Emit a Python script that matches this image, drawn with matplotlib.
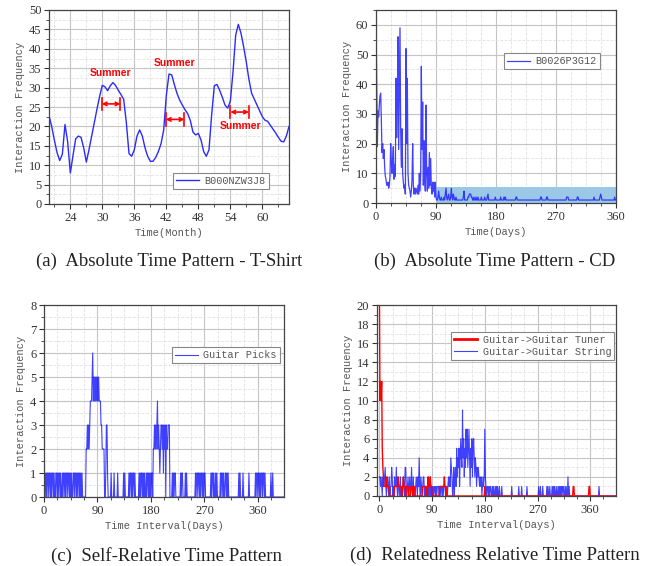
import numpy as np
import matplotlib
matplotlib.use("Agg")
import matplotlib.pyplot as plt
from matplotlib.ticker import MultipleLocator

plt.rcParams['font.family'] = ['Liberation Serif', 'DejaVu Serif']

# ---- (a) T-Shirt, monthly (read every half month)
a_month = np.arange(20, 65.01, 0.5)
a_freq = [22.8, 20.0, 16.5, 13.3, 11.2, 12.8, 20.5, 16.0, 8.0, 12.5,
          16.8, 17.5, 17.2, 14.5, 10.8, 14.0, 17.5, 21.0, 24.5, 27.8,
          30.6, 30.2, 29.2, 30.5, 31.3, 30.5, 29.3, 28.2, 27.0, 21.0,
          13.0, 12.3, 14.0, 17.5, 19.1, 17.5, 14.5, 12.3, 11.0, 11.0,
          12.0, 13.5, 15.5, 19.0, 28.0, 33.5, 33.3, 30.8, 28.5, 26.8,
          25.5, 24.3, 23.3, 21.5, 18.5, 17.8, 18.2, 16.5, 13.5, 12.3,
          14.0, 23.0, 30.5, 30.8, 29.3, 27.5, 25.5, 24.7, 26.5, 34.0,
          43.5, 46.3, 44.0, 40.5, 36.5, 32.0, 28.5, 27.0, 25.5, 24.0,
          22.5, 21.6, 21.3, 20.3, 19.3, 18.3, 17.2, 16.2, 16.0, 17.5,
          20.0]
summer_start = [29.9, 41.9, 54.0]
summer_end = [33.4, 45.4, 57.5]
summer_y = [25.8, 21.8, 23.7]
summer_label_x = [31.6, 43.5, 56.0]
summer_label_y = [33.8, 36.3, 20.1]

# ---- (b) CD, daily
b_head = [65, 40, 19, 31, 29, 33, 36, 37, 28, 17,
          20, 15, 18, 12, 9, 8, 6, 6, 7, 5,
          6, 9, 20, 14, 10, 15, 19, 8, 13, 9,
          42, 22, 35, 56, 18, 40, 59, 25, 12, 25,
          10, 7, 5, 6, 3, 52, 20, 42, 10, 6,
          5, 4, 2, 4, 8, 20, 6, 3, 5, 3,
          5, 4, 3, 6, 3, 10, 4, 10, 46, 18,
          34, 6, 21, 8, 4, 33, 10, 4, 12, 5,
          17, 6, 15, 5, 3, 7, 4, 7, 2, 7,
          2]
b_tail = ("1124211211" "1213521231" "1252132112" "1111111111" "2411111223"
          "3322112112" "1121111211" "1121112311" "1111111121" "1111112111"
          "1212111111" "1111111112" "2111111111" "1111111111" "1111111111"
          "1111112211" "1111122111" "1111111111" "1111111111" "1111122211"
          "1111111111" "1221111111" "1111111111" "1111112111" "1111123211"
          "1111111111" "1111111211")
b_freq = b_head + [int(c) for c in b_tail]
b_band_top = 5.3

# ---- (c) Guitar Picks, daily interval counts
c_str = ("0110101101" "1010110100" "1101011010" "0101101011" "0110101001"
         "1011010110" "1010100000" "0223232344" "4564545454" "5454443322"
         "2200133100" "0001000010" "0000100000" "0000101000" "0001011010"
         "1101000000" "1010110101" "0010110101" "0110223232" "3423212332"
         "3132303223" "3300001010" "1100000000" "1011000010" "1000000000"
         "0000010110" "1101011010" "1100000000" "0101101001" "0100000101"
         "1010011010" "1000000000" "0000000010" "1000010000" "0000010000"
         "0000001011" "0110101101" "1010000000" "0010010000" "000000000000000")
c_freq = [int(c) for c in c_str]

# ---- (d) Guitar -> Tuner / String
d_tuner_head = [24, 10, 12, 10, 12, 5, 3, 2]
d_tuner_str = ("11" "1121111000" "0000001111" "1121111100" "1211101111"
               "0000111011" "1000000000" "0000111111" "1002111211" "0000000000"
               "0001111111" "1211100000")
d_string_str = ("2212102112" "3101210201" "1320102113" "1021012010" "1210331012"
                "0120131020" "1012102141" "0210122010" "1010210201" "1010110101"
                "1101011010" "1110110121" "2143201302" "3152435146" "4394625374"
                "7357415362" "5642431323" "2121201212" "7210110101" "1001010010"
                "1010010001" "0000000000" "0000001000" "0000000010" "0001000000"
                "0010000000" "0000000000" "0010010001" "0000001010" "0100010101"
                "0010010101" "0101100101" "0020100000" "0000000000" "0000000000"
                "0000000000" "0000000000" "0000010000" "0000000000" "0000000000000000")
d_tuner = d_tuner_head + [int(c) for c in d_tuner_str]
d_tuner_spikes = [180, 331, 332, 358, 359]
d_tuner = d_tuner + [0] * (406 - len(d_tuner))
for s in d_tuner_spikes:
    d_tuner[s] = 1
d_string = [int(c) for c in d_string_str]

MONO = 'Liberation Mono'
LAB = 7.5
GRID_MAJ = '#c4c4c4'
GRID_MIN = '#e2e2e2'


def style(ax, xmaj, xmin, ymaj, ymin):
    ax.xaxis.set_major_locator(MultipleLocator(xmaj))
    ax.xaxis.set_minor_locator(MultipleLocator(xmin))
    ax.yaxis.set_major_locator(MultipleLocator(ymaj))
    ax.yaxis.set_minor_locator(MultipleLocator(ymin))
    ax.grid(which='major', color=GRID_MAJ, lw=0.8, ls='-')
    ax.grid(which='minor', color=GRID_MIN, lw=0.6, ls='--')
    ax.set_axisbelow(True)
    ax.tick_params(which='major', direction='out', length=3.5, width=0.8,
                   labelsize=9, colors='#333333', pad=2)
    ax.tick_params(which='minor', direction='out', length=2, width=0.6,
                   colors='#333333')
    for sp in ax.spines.values():
        sp.set_color('#444444')
        sp.set_linewidth(0.9)
    ax.set_ylabel('Interaction Frequency', family=MONO, fontsize=LAB, color='#555555', labelpad=3)


def legend(ax, anchor, loc, handles=None):
    lg = ax.legend(handles=handles, loc=loc, bbox_to_anchor=anchor, borderaxespad=0,
                   prop={'family': MONO, 'size': 7.3}, fancybox=False,
                   edgecolor='#888888', framealpha=1, borderpad=0.3,
                   handlelength=2.3, handletextpad=0.5, labelspacing=0.2)
    lg.get_frame().set_linewidth(0.8)
    for t in lg.get_texts():
        t.set_color('#555555')
    return lg


fig = plt.figure(figsize=(6.46, 5.66), dpi=100)

# (a)
ax = fig.add_axes([49 / 646, 1 - 204 / 566, 240 / 646, 194 / 566])
ax.plot(a_month, a_freq, color='#2b2bff', lw=1.0, label='B000NZW3J8')
ax.set_xlim(20, 65)
ax.set_ylim(0, 50)
style(ax, 6, 3, 5, 2.5)
ax.set_xticks([24, 30, 36, 42, 48, 54, 60])
ax.set_xlabel('Time(Month)', family=MONO, fontsize=LAB, color='#555555', labelpad=3)
for x0, x1, y in zip(summer_start, summer_end, summer_y):
    ax.annotate('', xy=(x0, y), xytext=(x1, y),
                arrowprops=dict(arrowstyle='<->', color='red', lw=1.2,
                                shrinkA=0, shrinkB=0, mutation_scale=6))
    ax.plot([x0, x0], [y - 1.6, y + 1.6], color='red', lw=1.2)
    ax.plot([x1, x1], [y - 1.6, y + 1.6], color='red', lw=1.2)
for x, y in zip(summer_label_x, summer_label_y):
    ax.text(x, y, 'Summer', color='red', fontsize=7.5, fontweight='bold',
            family='Liberation Sans', ha='center', va='center')
legend(ax, (0.517, 0.077), 'lower left')

# (b)
ax = fig.add_axes([376 / 646, 1 - 203 / 566, 240 / 646, 193 / 566])
ax.fill_between([90, 360], 0, b_band_top, color='#9cc8e8', lw=0)
ax.plot(np.arange(len(b_freq)), b_freq, color='#1f1fff', lw=0.9, alpha=0.85,
        label='B0026P3G12')
ax.set_xlim(0, 360)
ax.set_ylim(0, 65)
style(ax, 90, 22.5, 10, 5)
ax.set_xlabel('Time(Days)', family=MONO, fontsize=LAB, color='#555555', labelpad=3)
legend(ax, (0.533, 0.777), 'upper left')

# (c)
ax = fig.add_axes([44 / 646, 1 - 497 / 566, 240 / 646, 192 / 566])
ax.plot(np.arange(len(c_freq)), c_freq, color='#0000ff', lw=0.8, alpha=0.75,
        label='Guitar Picks')
ax.set_xlim(0, 404)
ax.set_ylim(0, 8)
style(ax, 90, 22.5, 1, 0.5)
ax.set_xlabel('Time Interval(Days)', family=MONO, fontsize=LAB, color='#555555', labelpad=3)
legend(ax, (0.533, 0.781), 'upper left')

# (d)
ax = fig.add_axes([377 / 646, 1 - 496 / 566, 239 / 646, 191 / 566])
l2, = ax.plot(np.arange(len(d_string)), d_string, color='#0000ff', lw=0.8,
              alpha=0.75, label='Guitar->Guitar String')
l1, = ax.plot(np.arange(len(d_tuner)), d_tuner, color='#ff0000', lw=1.0,
              label='Guitar->Guitar Tuner')
ax.set_xlim(-4, 404)
ax.set_ylim(0, 20)
style(ax, 90, 22.5, 2, 1)
ax.set_xlabel('Time Interval(Days)', family=MONO, fontsize=LAB, color='#555555', labelpad=3)
lg = legend(ax, (0.31, 0.859), 'upper left', handles=[l1, l2])
lg.get_lines()[0].set_linewidth(2)

# sub-captions
caps = [(169, 261, '(a)  Absolute Time Pattern - T-Shirt'),
        (495, 261, '(b)  Absolute Time Pattern - CD'),
        (166, 556, '(c)  Self-Relative Time Pattern'),
        (495, 555, '(d)  Relatedness Relative Time Pattern')]
for x, y, s in caps:
    fig.text(x / 646, 1 - y / 566, s, ha='center', va='center', fontsize=13.5,
             color='#222222')

fig.savefig('out.png', dpi=100)
